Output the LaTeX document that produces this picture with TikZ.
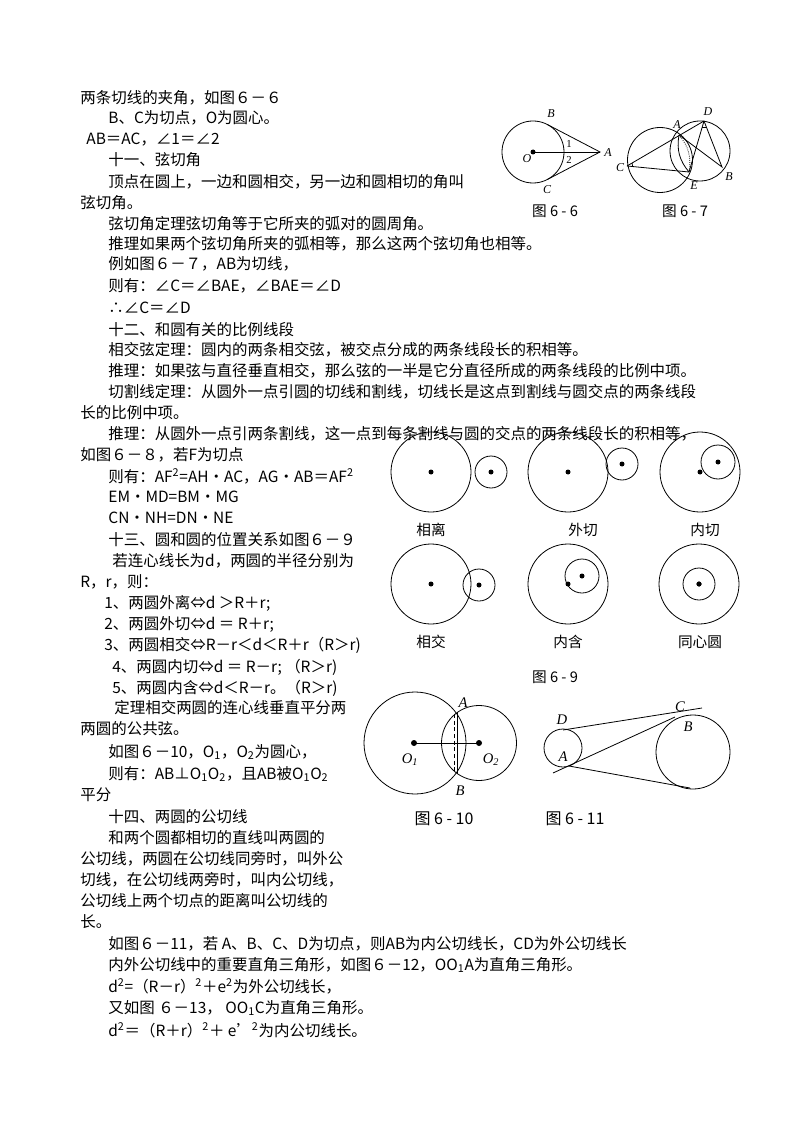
\documentclass[tikz,border=0pt]{standalone}
\usepackage{fontspec}
\setmainfont{Noto Sans CJK SC}
\newfontfamily\lab{Liberation Serif}
\begin{document}
\begin{tikzpicture}[x=0.75pt,y=-0.75pt,line width=0.6pt,
  txt/.style={anchor=west,inner sep=0pt,font=\fontsize{11.6}{13}\selectfont},
  figcap/.style={inner sep=0pt,font=\fontsize{11}{13}\selectfont},
  lb/.style={inner sep=0pt,font=\lab\itshape\fontsize{9}{10}\selectfont},
  lbb/.style={inner sep=0pt,font=\lab\itshape\fontsize{11}{12}\selectfont}]
\useasboundingbox (0,0) rectangle (800,1130);
% ---------- text ----------
\node[txt] (t1) at (80,98) {两条切线的夹角，如图６－６};
\node[txt] (t2) at (108,118) {B、C为切点，O为圆心。};
\node[txt] (t3) at (86,140) {AB＝AC，∠1＝∠2};
\node[txt] (t4) at (108,160) {十一、弦切角};
\node[txt] (t5) at (108,182) {顶点在圆上，一边和圆相交，另一边和圆相切的角叫};
\node[txt] (t6) at (80,203) {弦切角。};
\node[txt] (t7) at (108,224) {弦切角定理弦切角等于它所夹的弧对的圆周角。};
\node[txt] (t8) at (108,244) {推理如果两个弦切角所夹的弧相等，那么这两个弦切角也相等。};
\node[txt] (t9) at (108,264) {例如图６－７，AB为切线，};
\node[txt] (t10) at (108,286) {则有：∠C＝∠BAE，∠BAE＝∠D};
\node[txt] (t11) at (108,308) {∴∠C＝∠D};
\node[txt] (t12) at (108,330) {十二、和圆有关的比例线段};
\node[txt] (t13) at (108,350) {相交弦定理：圆内的两条相交弦，被交点分成的两条线段长的积相等。};
\node[txt] (t14) at (108,371) {推理：如果弦与直径垂直相交，那么弦的一半是它分直径所成的两条线段的比例中项。};
\node[txt] (t15) at (108,392) {切割线定理：从圆外一点引圆的切线和割线，切线长是这点到割线与圆交点的两条线段};
\node[txt] (t16) at (80,413) {长的比例中项。};
\node[txt] (t17) at (108,434) {推理：从圆外一点引两条割线，这一点到每条割线与圆的交点的两条线段长的积相等，};
\node[txt] (t18) at (80,455) {如图６－８，若F为切点};
\node[txt] (t19) at (108,476) {则有：AF\textsuperscript{2}=AH·AC，AG·AB＝AF\textsuperscript{2}};
\node[txt] (t20) at (108,497) {EM·MD=BM·MG};
\node[txt] (t21) at (108,518) {CN·NH=DN·NE};
\node[txt] (t22) at (108,540) {十三、圆和圆的位置关系如图６－９};
\node[txt] (t23) at (112,561) {若连心线长为d，两圆的半径分别为};
\node[txt] (t24) at (80,582) {R，r，则：};
\node[txt] (t25) at (104,603) {1、两圆外离⇔d ＞R＋r;};
\node[txt] (t26) at (104,624) {2、两圆外切⇔d ＝ R＋r;};
\node[txt] (t27) at (104,645) {3、两圆相交⇔R－r＜d＜R＋r（R＞r)};
\node[txt] (t28) at (112,667) {4、两圆内切⇔d ＝ R－r; （R＞r)};
\node[txt] (t29) at (112,688) {5、两圆内含⇔d＜R－r。（R＞r)};
\node[txt] (t30) at (114,708) {定理相交两圆的连心线垂直平分两};
\node[txt] (t31) at (80,729) {两圆的公共弦。};
\node[txt] (t32) at (108,752) {如图６－10，O\textsubscript{1}，O\textsubscript{2}为圆心，};
\node[txt] (t33) at (108,774) {则有：AB⊥O\textsubscript{1}O\textsubscript{2}，且AB被O\textsubscript{1}O\textsubscript{2}};
\node[txt] (t34) at (80,795) {平分};
\node[txt] (t35) at (108,817) {十四、两圆的公切线};
\node[txt] (t36) at (108,838) {和两个圆都相切的直线叫两圆的};
\node[txt] (t37) at (80,859) {公切线，两圆在公切线同旁时，叫外公};
\node[txt] (t38) at (80,880) {切线，在公切线两旁时，叫内公切线，};
\node[txt] (t39) at (80,901) {公切线上两个切点的距离叫公切线的};
\node[txt] (t40) at (80,922) {长。};
\node[txt] (t41) at (108,944) {如图６－11，若 A、B、C、D为切点，则AB为内公切线长，CD为外公切线长};
\node[txt] (t42) at (108,965) {内外公切线中的重要直角三角形，如图６－12，OO\textsubscript{1}A为直角三角形。};
\node[txt] (t43) at (108,986) {d\textsuperscript{2}=（R－r）\textsuperscript{2}＋e\textsuperscript{2}为外公切线长，};
\node[txt] (t44) at (108,1008) {又如图 ６－13， OO\textsubscript{1}C为直角三角形。};
\node[txt] (t45) at (108,1030) {d\textsuperscript{2}＝（R＋r）\textsuperscript{2}＋ e'\textsuperscript{2}为内公切线长。};
% ---------- Fig 6-6 ----------
\coordinate (O6) at (533,152);
\coordinate (A6) at (600,152);
\coordinate (B6) at (547.3,124.5);
\coordinate (C6) at (547.3,179.5);
\draw (O6) circle (31);
\fill (O6) circle (2.5);
\draw (B6) -- (A6) -- (C6);
\draw (O6) -- (A6);
\node[lb] (lB6) at (551,114) {B};
\node[lb] (lC6) at (547,190) {C};
\node[lb] (lO6) at (527,159) {O};
\node[lb] (lA6) at (608,153) {A};
\node[lb,font=\lab\fontsize{8}{9}\selectfont] (l16) at (569,144) {1};
\node[lb,font=\lab\fontsize{8}{9}\selectfont] (l26) at (569,160) {2};
\node[figcap] (cap66) at (555,211) {图 6 - 6};
% ---------- Fig 6-7 ----------
\coordinate (C7) at (627,166);
\coordinate (A7) at (679,135);
\coordinate (D7) at (704,121);
\coordinate (E7) at (689,172);
\coordinate (B7) at (722,167);
\draw (660,160) circle (32.5);
\draw (700,151) circle (30);
\draw (C7) -- (D7) -- (B7) -- (A7);
\draw (C7) -- (E7) -- (D7);
\draw[densely dotted] (A7) to[bend left=25] (E7);
\draw (A7) to[bend right=25] (E7);
\draw (C7) ++(5,-3) arc[start angle=-30,end angle=10,radius=5];
\draw (D7) ++(-2,6) arc[start angle=110,end angle=70,radius=6];
\node[lb] (lD7) at (708,112) {D};
\node[lb] (lA7) at (677,125) {A};
\node[lb] (lC7) at (620,168) {C};
\node[lb] (lE7) at (694,186) {E};
\node[lb] (lB7) at (729,177) {B};
\node[figcap] (cap67) at (685,211) {图 6 - 7};
% ---------- Fig 6-9 ----------
\foreach \cx/\cy/\sx/\sy/\sr in {431/472/491/472/16, 568/472/622/464/16, 700/472/718/462/17,
  431/584/479/585/16, 568/584/582/576/17, 699/584/699/584/16}{
  \draw (\cx,\cy) circle (40);
  \fill (\cx,\cy) circle (2.5);
  \draw (\sx,\sy) circle (\sr);
  \fill (\sx,\sy) circle (2.5);
}
\node[figcap] (c91) at (431,530) {相离};
\node[figcap] (c92) at (583,530) {外切};
\node[figcap] (c93) at (705,530) {内切};
\node[figcap] (c94) at (431,642) {相交};
\node[figcap] (c95) at (568,642) {内含};
\node[figcap] (c96) at (700,642) {同心圆};
\node[figcap] (cap69) at (555,677) {图 6 - 9};
% ---------- Fig 6-10 ----------
\coordinate (O1) at (414,743);
\coordinate (O2) at (479,743);
\coordinate (A10) at (457,712);
\coordinate (B10) at (457,774);
\draw (415,743) circle (51);
\draw (479,743) circle (37.5);
\fill (O1) circle (3);
\fill (O2) circle (3);
\draw (O1) -- (O2);
\draw (A10) -- (B10);
\draw[densely dashed] (A10) ++(-3,2) -- ++(0,58);
\node[lbb] (lA10) at (463,703) {A};
\node[lbb] (lB10) at (460,791) {B};
\node[lbb] (lO1) at (410,760) {O\textsubscript{1}};
\node[lbb] (lO2) at (491,760) {O\textsubscript{2}};
\node[figcap,font=\fontsize{12}{13}\selectfont] (cap610) at (444,819) {图 6 - 10};
% ---------- Fig 6-11 ----------
\coordinate (D11) at (563,730);
\coordinate (C11e) at (702,708);
\coordinate (A11s) at (553,773);
\coordinate (B11) at (675,717);
\coordinate (A11) at (569,766);
\coordinate (F11) at (690,788);
\draw (563,748) circle (19);
\draw (693,752) circle (37);
\draw (D11) -- (C11e);
\draw (A11s) -- (B11);
\draw (A11) -- (F11);
\node[lbb] (lD11) at (562,720) {D};
\node[lbb] (lC11) at (680,707) {C};
\node[lbb] (lB11) at (688,727) {B};
\node[lbb] (lA11) at (563,757) {A};
\node[figcap,font=\fontsize{12}{13}\selectfont] (cap611) at (575,819) {图 6 - 11};
\end{tikzpicture}
\end{document}
